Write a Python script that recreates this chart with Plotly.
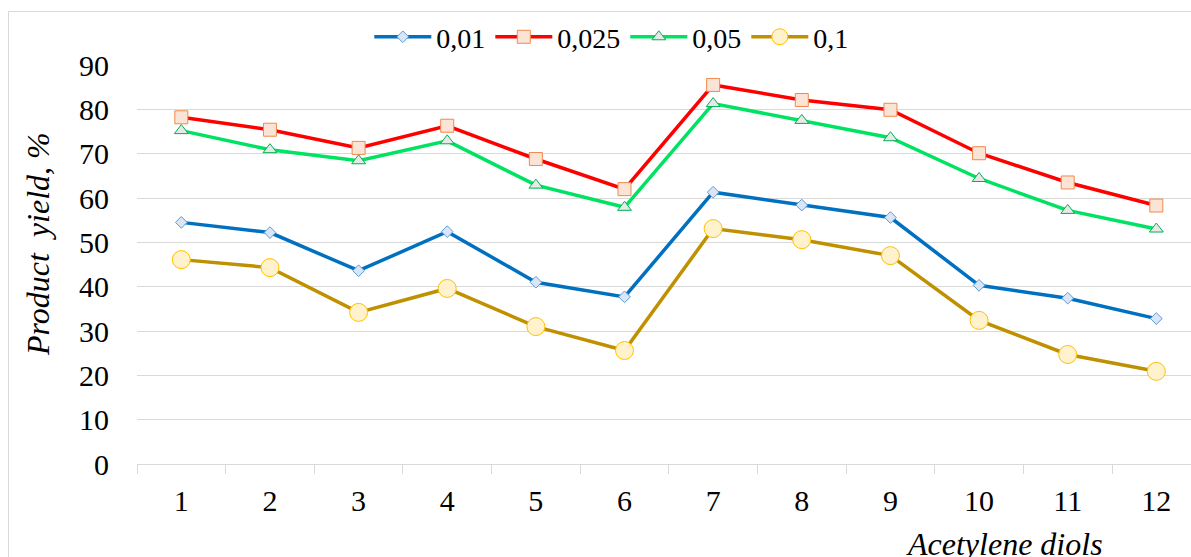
import plotly.graph_objects as go

categories = list(range(1, 13))
tick_labels = [str(c) for c in categories]

series_names = ["0,01", "0,025", "0,05", "0,1"]
y_001 = [54.5, 52.2, 43.6, 52.4, 41.0, 37.7, 61.3, 58.4, 55.6, 40.3, 37.4, 32.8]
y_0025 = [78.2, 75.4, 71.3, 76.3, 68.8, 62.0, 85.5, 82.1, 79.9, 70.1, 63.5, 58.3]
y_005 = [75.2, 70.9, 68.4, 72.9, 62.9, 57.9, 81.3, 77.5, 73.6, 64.4, 57.2, 53.0]
y_01 = [46.1, 44.3, 34.2, 39.6, 31.0, 25.6, 53.1, 50.6, 47.0, 32.4, 24.7, 20.9]

FONT = "Liberation Serif"

styles = [
    dict(line="#0070C0", symbol="diamond", size=9, fill="#DAE6F7", edge="#5B9BD5"),
    dict(line="#FF0000", symbol="square", size=13, fill="#FBE3D6", edge="#F08A4B"),
    dict(line="#00E262", symbol="triangle-up", size=12, fill="#E8E8E8", edge="#00B050"),
    dict(line="#BF9000", symbol="circle", size=18, fill="#FFF2CC", edge="#FFC000"),
]

fig = go.Figure()
for name, ys, st in zip(series_names, [y_001, y_0025, y_005, y_01], styles):
    fig.add_trace(go.Scatter(
        x=categories, y=ys, name=name, mode="lines+markers",
        line=dict(color=st["line"], width=3.5),
        marker=dict(symbol=st["symbol"], size=st["size"], color=st["fill"],
                    line=dict(color=st["edge"], width=1)),
    ))

fig.update_layout(
    width=1191, height=557,
    margin=dict(l=137, r=0, t=65, b=93, autoexpand=False),
    paper_bgcolor="white", plot_bgcolor="white",
    font=dict(family=FONT, size=29, color="black"),
    showlegend=True,
    legend=dict(orientation="h", x=0.45, xanchor="center", y=1.07, yanchor="middle",
                font=dict(family=FONT, size=28, color="black"),
                bgcolor="rgba(0,0,0,0)", itemwidth=57, tracegroupgap=0),
    xaxis=dict(range=[0.5, 12.391], tickmode="array", tickvals=categories, ticktext=tick_labels,
               ticks="", showgrid=False, zeroline=False, showline=True, linecolor="#d9d9d9",
               linewidth=1, ticklabelstandoff=10, automargin=False,
               minor=dict(tick0=0.5, dtick=1, ticks="outside", ticklen=9,
                          tickcolor="#d9d9d9", tickwidth=1, showgrid=False),
               tickfont=dict(family=FONT, size=30, color="black")),
    yaxis=dict(range=[0, 90], dtick=10, tick0=0, showgrid=True, gridcolor="#d9d9d9", gridwidth=1,
               zeroline=False, showline=False, ticks="", ticklabelstandoff=27, automargin=False,
               tickfont=dict(family=FONT, size=30, color="black")),
    annotations=[
        dict(text="Product  yield, %", xref="paper", yref="paper", x=-0.094, y=0.551,
             xanchor="center", yanchor="middle", textangle=-90, showarrow=False,
             font=dict(family=FONT, size=32, color="black", style="italic")),
        dict(text="Acetylene diols", xref="paper", yref="paper", x=0.8226, y=-0.200,
             xanchor="center", yanchor="middle", showarrow=False,
             font=dict(family=FONT, size=32, color="black", style="italic")),
    ],
    shapes=[
        dict(type="rect", xref="paper", yref="paper", x0=-0.1219, x1=1.05, y0=-0.4, y1=1.134,
             line=dict(color="#d9d9d9", width=1), fillcolor="rgba(0,0,0,0)", layer="below"),
    ],
)

fig.write_html("out.html", config={"displayModeBar": False},
               post_script="document.body.style.margin='0';")
